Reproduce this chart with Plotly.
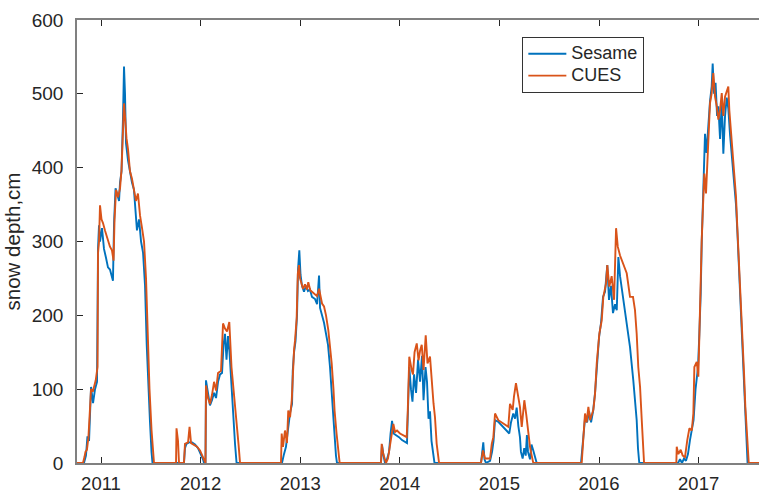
import plotly.graph_objects as go

# Time as decimal year, depth in cm
sesame_year = [
    2010.759, 2010.829, 2010.849, 2010.864, 2010.880, 2010.890, 2010.900, 2010.920, 2010.940, 2010.960,
    2010.970, 2010.980, 2010.990, 2011.010, 2011.030, 2011.050, 2011.070, 2011.090, 2011.110, 2011.120,
    2011.131, 2011.146, 2011.161, 2011.181, 2011.191, 2011.206, 2011.221, 2011.231, 2011.241, 2011.251,
    2011.271, 2011.291, 2011.311, 2011.331, 2011.351, 2011.361, 2011.382, 2011.402, 2011.422, 2011.442,
    2011.459, 2011.472, 2011.492, 2011.507, 2011.517,
    # 2012
    2011.833, 2011.843, 2011.858, 2011.884, 2011.914, 2011.944, 2011.974, 2012.004, 2012.024, 2012.034,
    2012.049, 2012.054, 2012.074, 2012.094, 2012.114, 2012.135, 2012.155, 2012.175, 2012.195, 2012.215,
    2012.230, 2012.245, 2012.260, 2012.275, 2012.290, 2012.306, 2012.326, 2012.346, 2012.361,
    # 2013
    2012.817, 2012.837, 2012.857, 2012.877, 2012.898, 2012.918, 2012.925, 2012.938, 2012.953, 2012.968,
    2012.978, 2012.991, 2013.003, 2013.018, 2013.038, 2013.058, 2013.078, 2013.098, 2013.118, 2013.149,
    2013.169, 2013.189, 2013.199, 2013.219, 2013.239, 2013.259, 2013.279, 2013.299, 2013.319, 2013.339,
    2013.359, 2013.369,
    # 2014
    2013.811, 2013.821, 2013.836, 2013.851, 2013.871, 2013.892, 2013.907, 2013.922, 2013.937, 2013.962,
    2013.992, 2014.022, 2014.052, 2014.072, 2014.079, 2014.095, 2014.112, 2014.127, 2014.143, 2014.163,
    2014.183, 2014.203, 2014.223, 2014.238, 2014.258, 2014.273, 2014.288, 2014.303, 2014.318, 2014.333,
    2014.348,
    # 2015
    2014.815, 2014.838, 2014.850, 2014.865, 2014.906, 2014.926, 2014.941, 2014.956, 2014.986, 2015.016,
    2015.046, 2015.076, 2015.099, 2015.116, 2015.139, 2015.157, 2015.173, 2015.190, 2015.206, 2015.216,
    2015.233, 2015.249, 2015.264, 2015.276, 2015.287, 2015.307, 2015.322, 2015.340, 2015.357, 2015.374,
    # 2016
    2015.819, 2015.839, 2015.859, 2015.880, 2015.900, 2015.920, 2015.940, 2015.960, 2015.980, 2016.000,
    2016.020, 2016.040, 2016.060, 2016.083, 2016.100, 2016.120, 2016.140, 2016.161, 2016.178, 2016.194,
    2016.211, 2016.241, 2016.278, 2016.311, 2016.344, 2016.378, 2016.391, 2016.404,
    # 2017
    2016.793, 2016.813, 2016.833, 2016.853, 2016.873, 2016.893, 2016.913, 2016.933, 2016.949, 2016.969,
    2016.981, 2016.994, 2017.007, 2017.021, 2017.031, 2017.041, 2017.054, 2017.064, 2017.079, 2017.094,
    2017.114, 2017.131, 2017.141, 2017.155, 2017.170, 2017.185, 2017.198, 2017.215, 2017.232, 2017.248,
    2017.265, 2017.282, 2017.298, 2017.315, 2017.335, 2017.355, 2017.375, 2017.390, 2017.403, 2017.416,
    2017.429, 2017.443, 2017.456, 2017.469, 2017.479, 2017.491, 2017.606,
]
sesame_depth = [
    0, 0, 10, 36, 30, 80, 103, 81, 100, 110,
    290, 322, 300, 318, 290, 278, 265, 262, 250, 247,
    325, 372, 365, 355, 380, 395, 470, 537, 500, 433,
    410, 392, 380, 370, 340, 315, 330, 300, 285, 240,
    160, 110, 55, 15, 0,
    0, 20, 26, 28, 28, 25, 20, 12, 5, 0,
    0, 112, 95, 78, 85, 95, 88, 110, 120, 122,
    160, 175, 140, 172, 150, 110, 62, 25, 0,
    0, 12, 22, 45, 68, 80, 125, 150, 165, 200,
    262, 288, 255, 240, 232, 240, 233, 235, 225, 222,
    215, 254, 210, 200, 190, 175, 160, 130, 95, 50,
    10, 0,
    0, 25, 10, 0, 5, 15, 40, 57, 40, 38,
    35, 31, 29, 27, 60, 130, 100, 83, 120, 95,
    140, 110, 145, 85, 130, 110, 60, 70, 30, 15,
    0,
    0, 28, 5, 0, 3, 15, 30, 58, 56, 52,
    48, 44, 40, 55, 67, 60, 75, 50, 35, 15,
    6, 20, 10, 38, 15, 5, 25, 17, 10, 0,
    0, 35, 60, 55, 70, 55, 70, 95, 135, 170,
    190, 225, 232, 268, 221, 240, 203, 215, 207, 279,
    253, 225, 193, 157, 112, 58, 20, 0,
    0, 5, 0, 6, 3, 12, 31, 45, 58, 100,
    117, 130, 175, 230, 300, 350, 410, 446, 420, 455,
    490, 510, 541, 500, 515, 470, 483, 439, 490, 419,
    470, 495, 480, 445, 415, 385, 350, 310, 270, 240,
    195, 160, 115, 70, 30, 0, 0,
]

cues_year = [
    2010.759, 2010.819, 2010.834, 2010.844, 2010.859, 2010.874, 2010.890, 2010.900, 2010.920, 2010.947,
    2010.965, 2010.970, 2010.980, 2010.990, 2011.005, 2011.020, 2011.040, 2011.070, 2011.090, 2011.110,
    2011.126, 2011.136, 2011.151, 2011.171, 2011.191, 2011.206, 2011.221, 2011.231, 2011.241, 2011.256,
    2011.271, 2011.291, 2011.311, 2011.331, 2011.351, 2011.371, 2011.392, 2011.412, 2011.432, 2011.452,
    2011.467, 2011.487, 2011.507, 2011.522, 2011.532,
    # 2012
    2011.753, 2011.758, 2011.773, 2011.783, 2011.833, 2011.843, 2011.874, 2011.889, 2011.904, 2011.934,
    2011.964, 2011.994, 2012.024, 2012.049, 2012.054, 2012.074, 2012.094, 2012.114, 2012.135, 2012.155,
    2012.175, 2012.205, 2012.225, 2012.245, 2012.265, 2012.288, 2012.310, 2012.331, 2012.346, 2012.366,
    2012.381, 2012.396,
    # 2013
    2012.807, 2012.814, 2012.827, 2012.847, 2012.867, 2012.880, 2012.898, 2012.915, 2012.925, 2012.938,
    2012.948, 2012.964, 2012.976, 2012.988, 2012.998, 2013.015, 2013.028, 2013.048, 2013.068, 2013.081,
    2013.101, 2013.118, 2013.149, 2013.169, 2013.189, 2013.219, 2013.239, 2013.259, 2013.282, 2013.299,
    2013.316, 2013.334, 2013.345, 2013.365, 2013.379, 2013.396,
    # 2014
    2013.811, 2013.818, 2013.831, 2013.846, 2013.861, 2013.881, 2013.902, 2013.919, 2013.935, 2013.952,
    2013.972, 2014.002, 2014.032, 2014.069, 2014.079, 2014.095, 2014.119, 2014.132, 2014.148, 2014.170,
    2014.188, 2014.203, 2014.220, 2014.238, 2014.260, 2014.278, 2014.303, 2014.320, 2014.338, 2014.353,
    2014.370, 2014.394,
    # 2015
    2014.815, 2014.835, 2014.855, 2014.906, 2014.923, 2014.939, 2014.956, 2014.989, 2015.039, 2015.089,
    2015.106, 2015.133, 2015.146, 2015.166, 2015.190, 2015.206, 2015.224, 2015.250, 2015.270, 2015.290,
    2015.307, 2015.324, 2015.340,
    # 2016
    2015.826, 2015.842, 2015.859, 2015.875, 2015.893, 2015.910, 2015.943, 2015.960, 2015.977, 2016.003,
    2016.027, 2016.043, 2016.070, 2016.083, 2016.103, 2016.127, 2016.151, 2016.171, 2016.188, 2016.211,
    2016.244, 2016.278, 2016.311, 2016.341, 2016.361, 2016.378, 2016.394, 2016.412, 2016.429, 2016.445,
    2016.452,
    # 2017
    2016.776, 2016.780, 2016.796, 2016.820, 2016.840, 2016.863, 2016.886, 2016.907, 2016.931, 2016.947,
    2016.957, 2016.981, 2016.997, 2017.007, 2017.021, 2017.031, 2017.041, 2017.057, 2017.074, 2017.087,
    2017.097, 2017.114, 2017.131, 2017.147, 2017.165, 2017.182, 2017.198, 2017.215, 2017.232, 2017.248,
    2017.265, 2017.282, 2017.298, 2017.308, 2017.322, 2017.342, 2017.355, 2017.375, 2017.388, 2017.403,
    2017.416, 2017.429, 2017.443, 2017.456, 2017.469, 2017.483, 2017.496, 2017.503, 2017.606,
]
cues_depth = [
    0, 0, 8, 15, 18, 35, 75, 100, 98, 112,
    130, 284, 300, 349, 330, 325, 315, 300, 293, 288,
    274, 330, 370, 360, 372, 397, 460, 487, 470, 440,
    425, 395, 385, 372, 355, 365, 335, 318, 300, 250,
    180, 100, 45, 10, 0,
    0, 47, 30, 0, 0, 26, 28, 49, 27, 25,
    22, 17, 8, 0, 105, 88, 80, 92, 110, 98,
    122, 125, 189, 182, 178, 191, 130, 100, 85, 50,
    25, 0,
    0, 40, 22, 44, 27, 71, 62, 85, 126, 153,
    166, 195, 257, 268, 250, 243, 236, 242, 235, 245,
    234, 232, 228, 226, 236, 216, 212, 200, 180, 160,
    135, 100, 71, 40, 22, 0,
    0, 26, 14, 6, 0, 6, 26, 44, 53, 42,
    44, 40, 38, 35, 67, 144, 126, 120, 150, 162,
    139, 152, 160, 126, 173, 135, 144, 108, 81, 62,
    26, 0,
    0, 17, 6, 6, 26, 35, 67, 58, 53, 49,
    80, 72, 90, 108, 89, 76, 49, 85, 65, 40,
    22, 10, 0,
    0, 40, 67, 55, 76, 58, 72, 94, 135, 175,
    193, 225, 243, 268, 239, 253, 221, 318, 293, 281,
    270, 257, 225, 225, 207, 175, 130, 103, 58, 22,
    0,
    0, 22, 12, 18, 10, 8, 31, 47, 44, 67,
    130, 137, 117, 180, 234, 302, 338, 392, 365, 406,
    451, 487, 501, 528, 496, 483, 465, 478, 501, 470,
    496, 505, 510, 478, 455, 424, 392, 361, 320, 279,
    248, 202, 166, 121, 76, 44, 8, 0, 0,
]

year_ticks = [2011, 2012, 2013, 2014, 2015, 2016, 2017]
depth_ticks = [0, 100, 200, 300, 400, 500, 600]
series_names = ["Sesame", "CUES"]

FONT = "Liberation Sans, Arial, sans-serif"
TXT = "#262626"
AX = "#808080"


def legend_label(name):
    # legend rows are spaced from the legend font size; the visible label is larger
    return '<span style="font-size:18px">' + name + "</span>"


fig = go.Figure()
fig.add_trace(go.Scatter(x=sesame_year, y=sesame_depth, mode="lines",
                         name=legend_label(series_names[0]),
                         line=dict(color="#0072BD", width=1.9)))
fig.add_trace(go.Scatter(x=cues_year, y=cues_depth, mode="lines",
                         name=legend_label(series_names[1]),
                         line=dict(color="#D95319", width=1.9)))

fig.update_layout(
    width=759, height=491,
    margin=dict(l=77, r=0, t=20, b=28),
    paper_bgcolor="white", plot_bgcolor="white",
    font=dict(family=FONT, size=19, color=TXT),
    showlegend=True,
    legend=dict(x=0.653, y=0.962, xanchor="left", yanchor="top",
                bgcolor="white", bordercolor="#333333", borderwidth=1,
                font=dict(family=FONT, size=14.5, color=TXT),
                tracegroupgap=0, itemwidth=38),
    xaxis=dict(range=[2010.759, 2017.606], tickmode="array", tickvals=year_ticks,
               ticktext=[str(v) for v in year_ticks],
               ticks="inside", ticklen=6, tickcolor=TXT, tickwidth=1,
               showline=True, linecolor=AX, linewidth=1.5, mirror="ticks",
               showgrid=False, zeroline=False, ticklabelstandoff=3, automargin=False,
               tickfont=dict(family=FONT, size=18.5, color=TXT)),
    yaxis=dict(range=[0, 600], tickmode="array", tickvals=depth_ticks,
               ticks="inside", ticklen=6, tickcolor=TXT, tickwidth=1,
               showline=True, linecolor=AX, linewidth=1.5, mirror=False,
               showgrid=False, zeroline=False, ticklabelstandoff=8, automargin=False,
               tickfont=dict(family=FONT, size=19, color=TXT),
               title=dict(text="snow depth,cm", font=dict(family=FONT, size=20.5, color=TXT),
                          standoff=6)),
)

fig.write_html("out.html")
